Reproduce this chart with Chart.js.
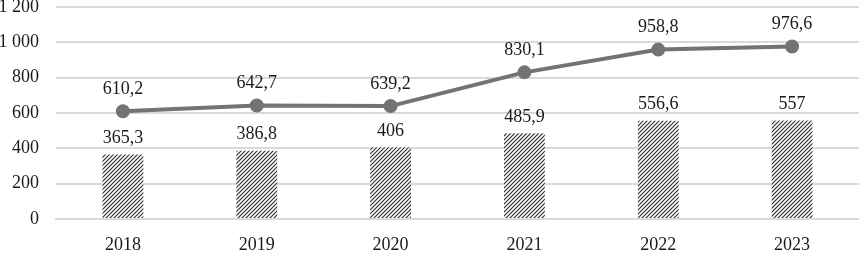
<!DOCTYPE html>
<html><head><meta charset="utf-8">
<script src="https://cdn.jsdelivr.net/npm/chart.js@4/dist/chart.umd.min.js"></script>
<style>html,body{margin:0;padding:0;background:#fff}#wrap{width:859px;height:254px}</style>
</head><body><div id="wrap"><canvas id="c" width="859" height="254"></canvas></div>
<script>
const categories = ['2018','2019','2020','2021','2022','2023'];
const barValues = [365.3, 386.8, 406, 485.9, 556.6, 557];
const lineValues = [610.2, 642.7, 639.2, 830.1, 958.8, 976.6];
const yTicks = [0, 200, 400, 600, 800, 1000, 1200];

function fmt(v){
  let s = String(v).replace('.', ',');
  const parts = s.split(',');
  parts[0] = parts[0].replace(/\B(?=(\d{3})+(?!\d))/g, ' ');
  return parts.join(',');
}

function makePattern(){
  const p = document.createElement('canvas');
  p.width = 4; p.height = 4;
  const g = p.getContext('2d');
  g.fillStyle = '#ffffff'; g.fillRect(0,0,4,4);
  g.strokeStyle = '#333333'; g.lineWidth = 1.2;
  g.beginPath();
  g.moveTo(-1,5); g.lineTo(5,-1);
  g.moveTo(-1,1); g.lineTo(1,-1);
  g.moveTo(3,5); g.lineTo(5,3);
  g.stroke();
  return g.createPattern(p, 'repeat');
}

const FONT = '"Liberation Serif", "Times New Roman", serif';

const labelPlugin = {
  id: 'valueLabels',
  afterDatasetsDraw(chart){
    const ctx = chart.ctx;
    ctx.save();
    ctx.font = '18px ' + FONT;
    ctx.fillStyle = '#1a1a1a';
    ctx.textAlign = 'center';
    ctx.textBaseline = 'middle';
    chart.data.datasets.forEach((ds, di) => {
      const meta = chart.getDatasetMeta(di);
      meta.data.forEach((el, i) => {
        const off = ds.type === 'line' ? 22 : 16;
        ctx.fillText(fmt(ds.data[i]), el.x, el.y - off);
      });
    });
    ctx.restore();
  }
};

new Chart(document.getElementById('c'), {
  data: {
    labels: categories,
    datasets: [
      { type: 'line', data: lineValues, borderColor: '#737373', backgroundColor: '#737373',
        borderWidth: 4, pointRadius: 5, pointHoverRadius: 5, order: 0, tension: 0, clip: false },
      { type: 'bar', data: barValues, backgroundColor: makePattern(), borderWidth: 0,
        categoryPercentage: 1, barPercentage: 0.305, order: 1 }
    ]
  },
  options: {
    responsive: false, animation: false,
    layout: { autoPadding: false, padding: { top: 7, right: 0, left: 0, bottom: 0 } },
    plugins: { legend: { display: false }, tooltip: { enabled: false } },
    scales: {
      x: {
        grid: { display: false, drawTicks: false },
        border: { display: true, color: '#d9d9d9', width: 2 },
        ticks: { color: '#1a1a1a', font: { family: FONT, size: 18 }, padding: 15 },
        afterFit(s){ s.height = 35; s.paddingLeft = 0; s.paddingRight = 0; }
      },
      y: {
        min: 0, max: 1200,
        afterBuildTicks(s){ s.ticks = yTicks.map(v => ({ value: v })); },
        grid: { color: '#d9d9d9', lineWidth: 2, drawTicks: false },
        border: { display: false },
        ticks: { color: '#1a1a1a', font: { family: FONT, size: 18 }, padding: 17,
          callback: v => fmt(v) },
        afterFit(s){ s.width = 56; s.paddingTop = 0; s.paddingBottom = 0; }
      }
    }
  },
  plugins: [labelPlugin]
});
</script></body></html>
